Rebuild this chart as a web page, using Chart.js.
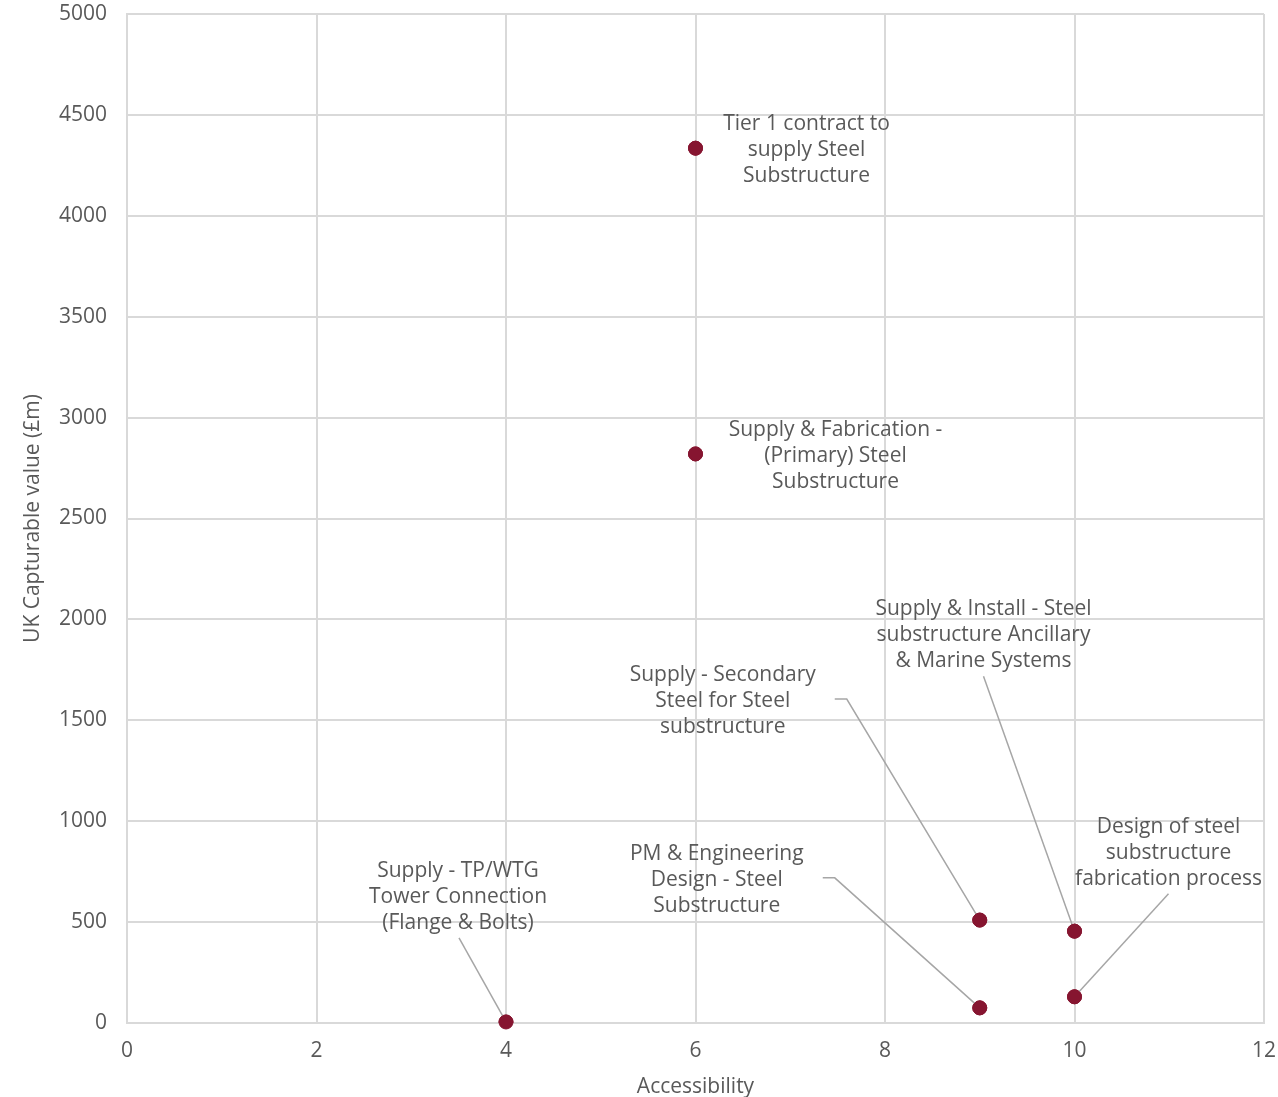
<!DOCTYPE html>
<html>
<head>
<meta charset="utf-8">
<script src="https://cdn.jsdelivr.net/npm/chart.js@4/dist/chart.umd.min.js"></script>
<style>
  html, body { margin: 0; padding: 0; background: #ffffff; }
  #wrap { width: 1278px; height: 1097px; position: relative; }
</style>
</head>
<body>
<div id="wrap"><canvas id="c"></canvas></div>
<script>
// Work packages: accessibility score vs UK capturable value (£m)
const names = [
  ["Tier 1 contract to", "supply Steel", "Substructure"],
  ["Supply & Fabrication -", "(Primary) Steel", "Substructure"],
  ["Supply & Install - Steel", "substructure Ancillary", "& Marine Systems"],
  ["Supply - Secondary", "Steel for Steel", "substructure"],
  ["PM & Engineering", "Design - Steel", "Substructure"],
  ["Design of steel", "substructure", "fabrication process"],
  ["Supply - TP/WTG", "Tower Connection", "(Flange & Bolts)"]
];
const accessibility = [6, 6, 10, 9, 9, 10, 4];
const capturableValue = [4335, 2820, 455, 510, 75, 130, 5];

const xTicks = [0, 2, 4, 6, 8, 10, 12];
const yTicks = [0, 500, 1000, 1500, 2000, 2500, 3000, 3500, 4000, 4500, 5000];

// Label placement relative to each point, in pixels:
// [centre dx, first-line dy, leader path (list of [dx,dy]) or null]
const labelPlacement = [
  [111, -24, null],
  [140, -24, null],
  [-91, -322, [[-91, -255]]],
  [-257, -245, [[-145, -221], [-133, -221]]],
  [-263, -154, [[-157, -130], [-145, -130]]],
  [94, -170, [[94, -103]]],
  [-48, -151, [[-47, -84]]]
];

const FONT = "'Open Sans', 'DejaVu Sans', sans-serif";
const TEXT = '#595959';

const labelPlugin = {
  id: 'pointLabels',
  afterDatasetsDraw(chart) {
    const ctx = chart.ctx;
    const meta = chart.getDatasetMeta(0);
    ctx.save();
    meta.data.forEach((pt, i) => {
      const path = labelPlacement[i][2];
      if (path) {
        ctx.beginPath();
        ctx.strokeStyle = '#a6a6a6';
        ctx.lineWidth = 1.5;
        ctx.moveTo(pt.x + path[0][0], pt.y + path[0][1]);
        for (let k = 1; k < path.length; k++) ctx.lineTo(pt.x + path[k][0], pt.y + path[k][1]);
        ctx.lineTo(pt.x, pt.y);
        ctx.stroke();
      }
    });
    // redraw points over the leader lines
    meta.data.forEach(pt => pt.draw(ctx, chart.chartArea));
    ctx.fillStyle = TEXT;
    ctx.font = '21px ' + FONT;
    ctx.textAlign = 'center';
    ctx.textBaseline = 'middle';
    meta.data.forEach((pt, i) => {
      const [dx, dy] = labelPlacement[i];
      names[i].forEach((line, j) => {
        ctx.fillText(line, pt.x + dx, pt.y + dy + j * 26);
      });
    });
    ctx.restore();
  }
};

new Chart(document.getElementById('c'), {
  type: 'scatter',
  data: {
    datasets: [{
      data: accessibility.map((x, i) => ({ x, y: capturableValue[i] })),
      backgroundColor: '#861530',
      borderColor: '#861530',
      pointRadius: 7,
      pointHoverRadius: 7
    }]
  },
  options: {
    responsive: true,
    maintainAspectRatio: false,
    animation: false,
    layout: { padding: { top: 14, right: 14, left: 0, bottom: 0 } },
    plugins: { legend: { display: false }, tooltip: { enabled: false } },
    scales: {
      x: {
        type: 'linear',
        min: 0, max: 12,
        afterBuildTicks: s => { s.ticks = xTicks.map(v => ({ value: v })); },
        afterFit: s => { s.height = 74; s.paddingLeft = 0; s.paddingRight = 0; },
        grid: { color: '#d9d9d9', lineWidth: 2, drawTicks: false },
        border: { color: '#d9d9d9', width: 2 },
        ticks: { color: TEXT, font: { family: FONT, size: 21 }, padding: 15, callback: v => String(v) },
        title: { display: true, text: 'Accessibility', color: TEXT, font: { family: FONT, size: 21 }, padding: { top: 4, bottom: -3 } }
      },
      y: {
        type: 'linear',
        min: 0, max: 5000,
        afterBuildTicks: s => { s.ticks = yTicks.map(v => ({ value: v })); },
        afterFit: s => { s.width = 127; s.paddingTop = 0; s.paddingBottom = 0; },
        grid: { color: '#d9d9d9', lineWidth: 2, drawTicks: false },
        border: { color: '#d9d9d9', width: 2 },
        ticks: { color: TEXT, font: { family: FONT, size: 21 }, padding: 20, callback: v => String(v) },
        title: { display: true, text: 'UK Capturable value (£m)', color: TEXT, font: { family: FONT, size: 21 }, padding: { top: 20, bottom: 0 } }
      }
    }
  },
  plugins: [labelPlugin]
});
</script>
</body>
</html>
